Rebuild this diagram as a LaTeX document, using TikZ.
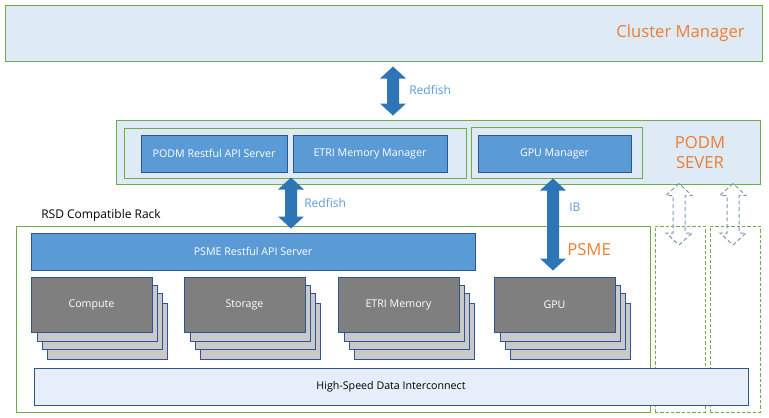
\documentclass[tikz,border=0pt]{standalone}
\usepackage{fontspec}
\setmainfont{Open Sans}
\usepackage{xcolor}
\usetikzlibrary{calc, fit}

\definecolor{framegreen}{HTML}{70AD47}
\definecolor{panelblue}{HTML}{DEEBF7}
\definecolor{boxblue}{HTML}{5B9BD5}
\definecolor{edgeblue}{HTML}{2F5597}
\definecolor{arrowblue}{HTML}{2E75B6}
\definecolor{labelblue}{HTML}{5B9BD5}
\definecolor{titleorange}{HTML}{ED7D31}
\definecolor{frontgray}{HTML}{7F7F7F}
\definecolor{backgray}{HTML}{C9C9C9}
\definecolor{linkfill}{HTML}{E6EFF9}
\definecolor{ghostblue}{HTML}{7F98BA}

% vertical block arrow with two heads, from top point to bottom point
\newcommand{\dblarrow}[3]{%
  \path[#1] let \p1=#2, \p2=#3 in
    (\x1,\y1) -- ++(-9.75pt,-9pt) -- ++(5.25pt,0) -- (\x1-4.5pt,\y2+9pt)
    -- ++(-5.25pt,0) -- (\x1,\y2) -- (\x1+9.75pt,\y2+9pt) -- ++(-5.25pt,0)
    -- (\x1+4.5pt,\y1-9pt) -- ++(5.25pt,0) -- cycle;}

% a stack of blades: name, left x, top y, label
\newcommand{\bladestack}[4]{%
  \foreach \dx/\dy in {16/26, 11/16, 6/8}
    \draw[backbox] (#2+\dx,#3+\dy) rectangle ++(120,56);
  \node[frontbox=#4, fit={(#2,#3) (#2+121,#3+55)}] (#1) {};}

\tikzset{
  boxtext/.style={inner sep=0pt, font=\fontsize{8}{9}\selectfont},
  panel/.style={draw=framegreen, line width=0.75pt, fill=panelblue, inner sep=0pt},
  group/.style={draw=framegreen, line width=0.75pt, inner sep=0pt},
  bluebox/.style={draw=edgeblue, line width=0.75pt, fill=boxblue, inner sep=0pt,
    label={[boxtext, text=white]center:#1}},
  frontbox/.style={draw=edgeblue, line width=0.75pt, fill=frontgray, inner sep=0pt,
    label={[boxtext, text=white]center:#1}},
  backbox/.style={draw=edgeblue, line width=0.75pt, fill=backgray},
  linkbox/.style={draw=edgeblue, line width=0.75pt, fill=linkfill, inner sep=0pt,
    label={[boxtext, text=black]center:#1}},
  spare/.style={draw=framegreen, line width=0.75pt, inner sep=0pt, dash pattern=on 2.5pt off 1.5pt},
  bigarrow/.style={fill=arrowblue},
  ghostarrow/.style={draw=ghostblue, line width=0.75pt, dash pattern=on 3pt off 2pt},
  orangetext/.style={text=titleorange, inner sep=0pt, font=\fontsize{12.5}{15}\selectfont},
  linktext/.style={text=labelblue, inner sep=0pt, anchor=west, font=\fontsize{9}{10}\selectfont}
}

\begin{document}
\begin{tikzpicture}[x=0.75pt, y=-0.75pt]
    \useasboundingbox (0,0) rectangle (769,418);

    % cluster manager
    \node[panel, fit={(5,5) (762,61)}] (cluster) {};
    \node[orangetext, anchor=east] (clustername) at (745,33) {Cluster Manager};

    % podm server
    \node[panel, fit={(116,120) (760,184)}] (podm) {};
    \node[group, fit={(124,128) (466,178)}] (podmgrp) {};
    \node[group, fit={(471,127) (642,178)}] (gpugrp) {};
    \node[bluebox=PODM Restful API Server, fit={(141,135) (287,172)}] (podmapi) {};
    \node[bluebox=ETRI Memory Manager, fit={(293,135) (447,172)}] (memmgr) {};
    \node[bluebox=GPU Manager, fit={(478,135) (631,172)}] (gpumgr) {};
    \node[orangetext, align=center] (podmname) at (700,153) {PODM\\SEVER};

    % rack
    \node[anchor=west, inner sep=0pt, font=\fontsize{9}{10}\selectfont] (rackname) at (41,215) {RSD Compatible Rack};
    \node[group, fit={(16,226) (650,412)}] (rack) {};
    \node[spare, fit={(655,226) (705,412)}] (spareA) {};
    \node[spare, fit={(710,226) (760,412)}] (spareB) {};
    \node[bluebox=PSME Restful API Server, fit={(31,233) (475,270)}] (psmeapi) {};
    \node[orangetext, anchor=west] (psmename) at (567,250) {PSME};

    \bladestack{compute}{31}{277}{Compute}
    \bladestack{storage}{184}{277}{Storage}
    \bladestack{memory}{338}{277}{ETRI Memory}
    \bladestack{gpu}{494}{277}{GPU}

    \node[linkbox=High-Speed Data Interconnect, fit={(34,368) (748,405)}] (interconnect) {};

    % links
    \coordinate (rfAtop) at ($(393,0 |- cluster.south)+(0,5)$);
    \coordinate (rfAbot) at ($(393,0 |- podm.north)+(0,-4)$);
    \dblarrow{bigarrow}{(rfAtop)}{(rfAbot)}
    \node[linktext] (rfA) at (409,90) {Redfish};

    \coordinate (rfBtop) at ($(291,0 |- podmgrp.south)+(0,-1)$);
    \coordinate (rfBbot) at ($(291,0 |- rack.north)+(0,3)$);
    \dblarrow{bigarrow}{(rfBtop)}{(rfBbot)}
    \node[linktext] (rfB) at (304,203) {Redfish};

    \coordinate (ibtop) at (553,0 |- gpugrp.south);
    \coordinate (ibbot) at (553,0 |- psmeapi.south);
    \dblarrow{bigarrow}{(ibtop)}{(ibbot)}
    \node[linktext] (ib) at (569,207) {IB};

    \coordinate (ghostAtop) at ($(679,0 |- podm.south)+(0,-1)$);
    \coordinate (ghostAbot) at (679,245);
    \dblarrow{ghostarrow}{(ghostAtop)}{(ghostAbot)}
    \coordinate (ghostBtop) at ($(733,0 |- podm.south)+(0,-1)$);
    \coordinate (ghostBbot) at (733,245);
    \dblarrow{ghostarrow}{(ghostBtop)}{(ghostBbot)}
\end{tikzpicture}
\end{document}
